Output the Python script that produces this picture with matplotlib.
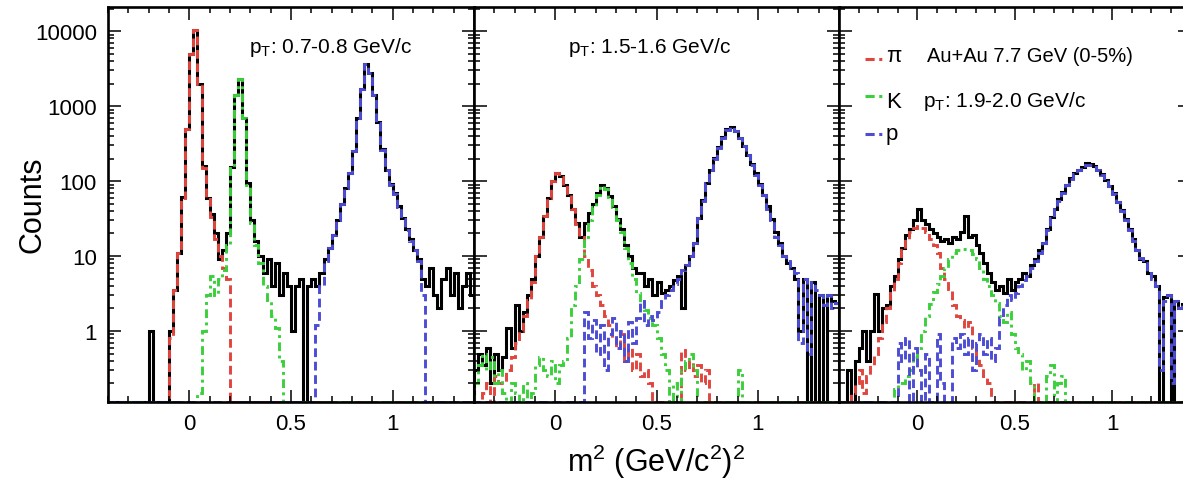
import numpy as np
import matplotlib
matplotlib.use('Agg')
import matplotlib.pyplot as plt
from matplotlib.ticker import MultipleLocator, LogLocator, FixedLocator, FuncFormatter, NullFormatter

plt.rcParams['font.family'] = ['Liberation Sans', 'DejaVu Sans']
plt.rcParams['mathtext.fontset'] = 'custom'
plt.rcParams['mathtext.rm'] = 'Liberation Sans'
plt.rcParams['mathtext.default'] = 'regular'

# m^2 bins, 0.02 (GeV/c^2)^2 wide, from -0.4 to 1.4
edges = np.linspace(-0.4, 1.4, 91)

# pT 0.7-0.8 GeV/c
counts_a = [0, 0, 0, 0, 0, 0, 0, 0, 0, 0,
            1, 0, 0, 0, 0, 1, 3.5, 11, 62, 500,
            5000, 10500, 2000, 160, 60, 36, 20, 9, 12, 20,
            155, 1400, 2300, 700, 95, 30, 16, 10, 6, 9,
            4, 8, 3, 6, 4, 1, 4, 5, 0, 4,
            5, 4, 6, 9, 13, 19, 30, 50, 80, 130,
            255, 700, 1700, 3600, 2800, 1400, 610, 265, 140, 92,
            70, 46, 32, 23, 17, 12, 9, 5, 4, 7,
            3, 2, 5, 7, 3, 6, 2, 4, 6, 3]
pion_a = [0, 0, 0, 0, 0, 0, 0, 0, 0, 0,
          0, 0, 0, 0, 0, 0.8, 3.5, 11, 60, 500,
          5000, 10500, 2000, 150, 57, 33, 17, 10, 7, 5,
          0, 0, 0, 0, 0, 0, 0, 0, 0, 0,
          0, 0, 0, 0, 0, 0, 0, 0, 0, 0,
          0, 0, 0, 0, 0, 0, 0, 0, 0, 0,
          0, 0, 0, 0, 0, 0, 0, 0, 0, 0,
          0, 0, 0, 0, 0, 0, 0, 0, 0, 0,
          0, 0, 0, 0, 0, 0, 0, 0, 0, 0]
kaon_a = [0, 0, 0, 0, 0, 0, 0, 0, 0, 0,
          0, 0, 0, 0, 0, 0, 0, 0, 0, 0,
          0, 0, 0.15, 1, 3, 5.5, 3, 5, 6.5, 14,
          150, 1400, 2300, 700, 90, 28, 14, 8, 4, 2.6,
          1.6, 1.1, 0.4, 0, 0, 0, 0, 0, 0, 0,
          0, 0, 0, 0, 0, 0, 0, 0, 0, 0,
          0, 0, 0, 0, 0, 0, 0, 0, 0, 0,
          0, 0, 0, 0, 0, 0, 0, 0, 0, 0,
          0, 0, 0, 0, 0, 0, 0, 0, 0, 0]
proton_a = [0, 0, 0, 0, 0, 0, 0, 0, 0, 0,
            0, 0, 0, 0, 0, 0, 0, 0, 0, 0,
            0, 0, 0, 0, 0, 0, 0, 0, 0, 0,
            0, 0, 0, 0, 0, 0, 0, 0, 0, 0,
            0, 0, 0, 0, 0, 0, 0, 0, 0, 0,
            0, 1.2, 4, 8.5, 13, 19, 30, 50, 80, 130,
            250, 700, 1700, 3600, 2800, 1400, 600, 260, 140, 90,
            68, 45, 31, 22, 16, 12, 8.5, 3, 0, 0,
            0, 0, 0, 0, 0, 0, 0, 0, 0, 0]

# pT 1.5-1.6 GeV/c
counts_b = [0.3, 0.5, 0.35, 0.6, 0.2, 0.5, 0.3, 0.45, 1.1, 0.6,
            2.2, 1.0, 1.8, 3, 5, 10, 18, 34, 60, 100,
            130, 117, 90, 66, 43, 28, 18, 28, 37, 50,
            69, 89, 80, 64, 46, 31, 23, 14, 10, 7,
            6, 6, 4, 5, 3, 4.5, 3.2, 3.5, 4, 4.8,
            5.5, 2, 7.5, 10, 15, 32, 56, 95, 140, 205,
            285, 385, 490, 525, 465, 375, 295, 222, 168, 128,
            92, 66, 46, 31, 21, 15, 10, 8, 7, 5,
            1, 5, 0, 4.5, 0, 3, 0, 3, 2.5, 2.4]
pion_b = [0, 0, 0.15, 0.2, 0, 0.25, 0.2, 0.2, 0.3, 0.45,
          0.7, 1.0, 1.6, 2.6, 4.5, 10, 18, 34, 60, 100,
          130, 115, 90, 65, 42, 27, 18, 10, 6.5, 4,
          3, 2.2, 1.6, 1.2, 0.8, 0.6, 0.9, 0.4, 0.6, 0.3,
          0.5, 0.25, 0.3, 0.2, 0, 0, 0, 0, 0, 0,
          0, 0.55, 0.3, 0.4, 0.25, 0.35, 0.2, 0.3, 0, 0,
          0, 0, 0, 0, 0, 0, 0, 0, 0, 0,
          0, 0, 0, 0, 0, 0, 0, 0, 0, 0,
          0, 0, 0, 0, 0, 0, 0, 0, 0, 0]
kaon_b = [0.2, 0.35, 0.5, 0.3, 0.45, 0.2, 0.3, 0.15, 0, 0.2,
          0.15, 0, 0.2, 0, 0.15, 0.35, 0.45, 0.3, 0.25, 0.4,
          0.2, 0.35, 0.4, 0.8, 2.2, 4, 9, 18, 30, 45,
          66, 87, 78, 62, 45, 30, 21, 13, 8, 5,
          3.2, 2.4, 1.9, 1.5, 1.2, 0.8, 0.5, 0.3, 0, 0.2,
          0, 0.3, 0.4, 0.5, 0.3, 0, 0, 0, 0, 0,
          0, 0, 0, 0, 0, 0.3, 0, 0, 0, 0,
          0, 0, 0, 0, 0, 0, 0, 0, 0, 0,
          0, 0, 0, 0, 0, 0, 0, 0, 0, 0]
proton_b = [0, 0, 0, 0, 0, 0, 0, 0, 0, 0,
            0, 0, 0, 0, 0, 0, 0, 0, 0, 0,
            0, 0, 0, 0, 0, 0, 0, 1.8, 0.8, 1.4,
            0.5, 1.2, 0.3, 0.9, 1.5, 0.6, 1.0, 0.4, 1.3, 0.7,
            1.5, 2.5, 1.2, 1.6, 1.4, 1.8, 2.5, 3, 3.5, 4.2,
            5, 6.5, 7.5, 10, 15, 32, 55, 95, 140, 200,
            280, 380, 480, 520, 460, 370, 290, 220, 165, 120,
            90, 65, 43, 30, 18, 14, 10, 8.5, 7, 6,
            0.7, 5, 0.5, 4.5, 3.5, 3, 2.2, 3, 2, 2.4]

# pT 1.9-2.0 GeV/c
counts_c = [0, 0, 0.3, 0, 0.4, 0.6, 1.0, 0.4, 1, 3.1,
            1, 2, 2.2, 4, 5.5, 9, 13, 19, 23, 30,
            42, 30, 27, 23, 20, 18, 16, 17, 15, 18,
            17, 21, 34, 18, 19, 14, 11, 8, 6, 4.5,
            3.5, 4, 3.2, 5, 3.5, 4.5, 5, 6, 5.5, 7.5,
            9, 12, 15, 23, 33, 43, 57, 71, 90, 110,
            128, 142, 155, 175, 168, 158, 141, 124, 104, 87,
            70, 53, 41, 31, 23, 17, 12, 9, 8.5, 6,
            5.5, 4, 0, 2.8, 3, 0, 2.5, 2, 2.3, 1.8]
pion_c = [0, 0, 0, 0.15, 0.2, 0.3, 0.15, 0.25, 0.35, 0.5,
          0.8, 1.3, 2, 3.2, 5, 8, 12, 17, 21, 24,
          25, 24, 21, 17, 14, 11, 7, 5, 3.6, 2.2,
          1.6, 1.4, 1.1, 1.3, 0.6, 0.45, 0.35, 0.25, 0.2, 0,
          0, 0, 0, 0, 0, 0, 0, 0, 0, 0,
          0.2, 0, 0, 0, 0, 0, 0, 0, 0, 0,
          0, 0, 0, 0, 0, 0, 0, 0, 0, 0,
          0, 0, 0, 0, 0, 0, 0, 0, 0, 0,
          0, 0, 0, 0, 0, 0, 0, 0, 0, 0]
kaon_c = [0, 0, 0, 0, 0, 0, 0, 0, 0, 0,
          0, 0, 0, 0, 0.17, 0.2, 0.2, 0.25, 0.3, 0.45,
          0.6, 1.0, 1.6, 2.3, 3.3, 4.3, 5.5, 7, 9, 11,
          12, 12.5, 12.5, 12, 10.5, 9, 7, 5, 4, 3,
          2.4, 1.6, 1.3, 1.8, 0.9, 0.6, 0.5, 0.3, 0.4, 0.2,
          0, 0, 0, 0.25, 0.35, 0, 0.2, 0.25, 0, 0,
          0, 0, 0, 0, 0, 0, 0, 0, 0, 0,
          0, 0, 0, 0, 0, 0, 0, 0, 0, 0,
          0, 0, 0, 0, 0, 0, 0, 0, 0, 0]
proton_c = [0, 0, 0, 0, 0, 0, 0, 0, 0, 0,
            0, 0, 0, 0, 0, 0.7, 0.4, 0.8, 0, 0.6,
            0.3, 0, 0.5, 0, 0, 0.9, 0.2, 0, 0, 0.8,
            0.6, 0.9, 0.5, 0.8, 0.3, 0.7, 0.9, 0.5, 0.8, 0.4,
            0.6, 1.5, 2.2, 3, 2.6, 3.2, 4, 4.8, 5.5, 7,
            8.5, 11, 15, 22, 32, 42, 55, 70, 88, 108,
            125, 140, 152, 162, 166, 155, 140, 122, 103, 85,
            68, 52, 40, 30, 22, 16, 12, 9.5, 8, 6,
            5, 4, 0.3, 2.5, 3, 0.2, 2.5, 2, 2.2, 1.8]

pt_labels = ['p$_T$: 0.7-0.8 GeV/c', 'p$_T$: 1.5-1.6 GeV/c', 'p$_T$: 1.9-2.0 GeV/c']
species = ['π', 'K', 'p']

red, green, blue = '#e0463e', '#3ccf3c', '#4c4cd4'
ymin, ymax = 0.113, 21000

fig = plt.figure(figsize=(11.83, 4.85), dpi=100)
W, H = 1183, 485
rects = [(108, 366), (474, 365), (839, 351)]
panels = [(counts_a, pion_a, kaon_a, proton_a),
          (counts_b, pion_b, kaon_b, proton_b),
          (counts_c, pion_c, kaon_c, proton_c)]
axes = []
for i, ((x0, w), (cnt, pi, ka, pr)) in enumerate(zip(rects, panels)):
    ax = fig.add_axes([x0 / W, 1 - 403 / H, w / W, 395 / H])
    ax.set_yscale('log')
    ax.stairs(np.clip(cnt, ymin, None), edges, color='k', lw=2.2)
    ax.stairs(np.clip(pi, ymin, None), edges, color=red, lw=2.1, ls=(0, (3, 1.6)))
    ax.stairs(np.clip(ka, ymin, None), edges, color=green, lw=2.1, ls=(0, (3, 1.5, 1, 1.5)))
    ax.stairs(np.clip(pr, ymin, None), edges, color=blue, lw=2.1, ls=(0, (3, 1.6)))
    ax.set_xlim(-0.4, 1.4)
    ax.set_ylim(ymin, ymax)
    ax.xaxis.set_major_locator(FixedLocator([0, 0.5, 1]))
    ax.xaxis.set_major_formatter(FuncFormatter(lambda v, p: f'{v:g}'))
    ax.xaxis.set_minor_locator(MultipleLocator(0.1))
    ax.yaxis.set_major_locator(LogLocator(base=10, numticks=10))
    ax.yaxis.set_minor_locator(LogLocator(base=10, subs=np.arange(2, 10), numticks=10))
    ax.yaxis.set_minor_formatter(NullFormatter())
    if i == 0:
        ax.yaxis.set_major_formatter(FuncFormatter(lambda v, p: f'{v:g}'))
    else:
        ax.yaxis.set_major_formatter(NullFormatter())
    ax.tick_params(which='both', direction='in', top=True, right=True, width=1.1,
                   labelsize=16, pad=8)
    ax.tick_params(which='major', length=9)
    ax.tick_params(which='minor', length=4.5)
    for sp in ax.spines.values():
        sp.set_linewidth(1.9)
    axes.append(ax)

axes[0].text(0.385, 0.886, pt_labels[0], transform=axes[0].transAxes, fontsize=15, va='baseline')
axes[1].text(0.258, 0.886, pt_labels[1], transform=axes[1].transAxes, fontsize=15, va='baseline')
axes[2].text(0.25, 0.863, 'Au+Au 7.7 GeV (0-5%)', transform=axes[2].transAxes, fontsize=14.5, va='baseline')
axes[2].text(0.24, 0.749, pt_labels[2], transform=axes[2].transAxes, fontsize=15, va='baseline')

# legend drawn by hand
for name, col, ym, yt in zip(species, [red, green, blue], [0.868, 0.775, 0.678], [0.863, 0.747, 0.666]):
    axes[2].plot([0.074, 0.125], [ym, ym], transform=axes[2].transAxes, color=col, lw=2.2,
                 ls=(0, (3, 1.5, 1, 1.5)))
    axes[2].text(0.134, yt, name, transform=axes[2].transAxes, fontsize=16, va='baseline')

fig.text(33 / W, 1 - 205 / H, 'Counts', rotation=90, fontsize=22, ha='center', va='center')
fig.text(656 / W, 1 - 462 / H, 'm$^2$ (GeV/c$^2$)$^2$', fontsize=22, ha='center', va='center')

fig.savefig('out.png', dpi=100)
